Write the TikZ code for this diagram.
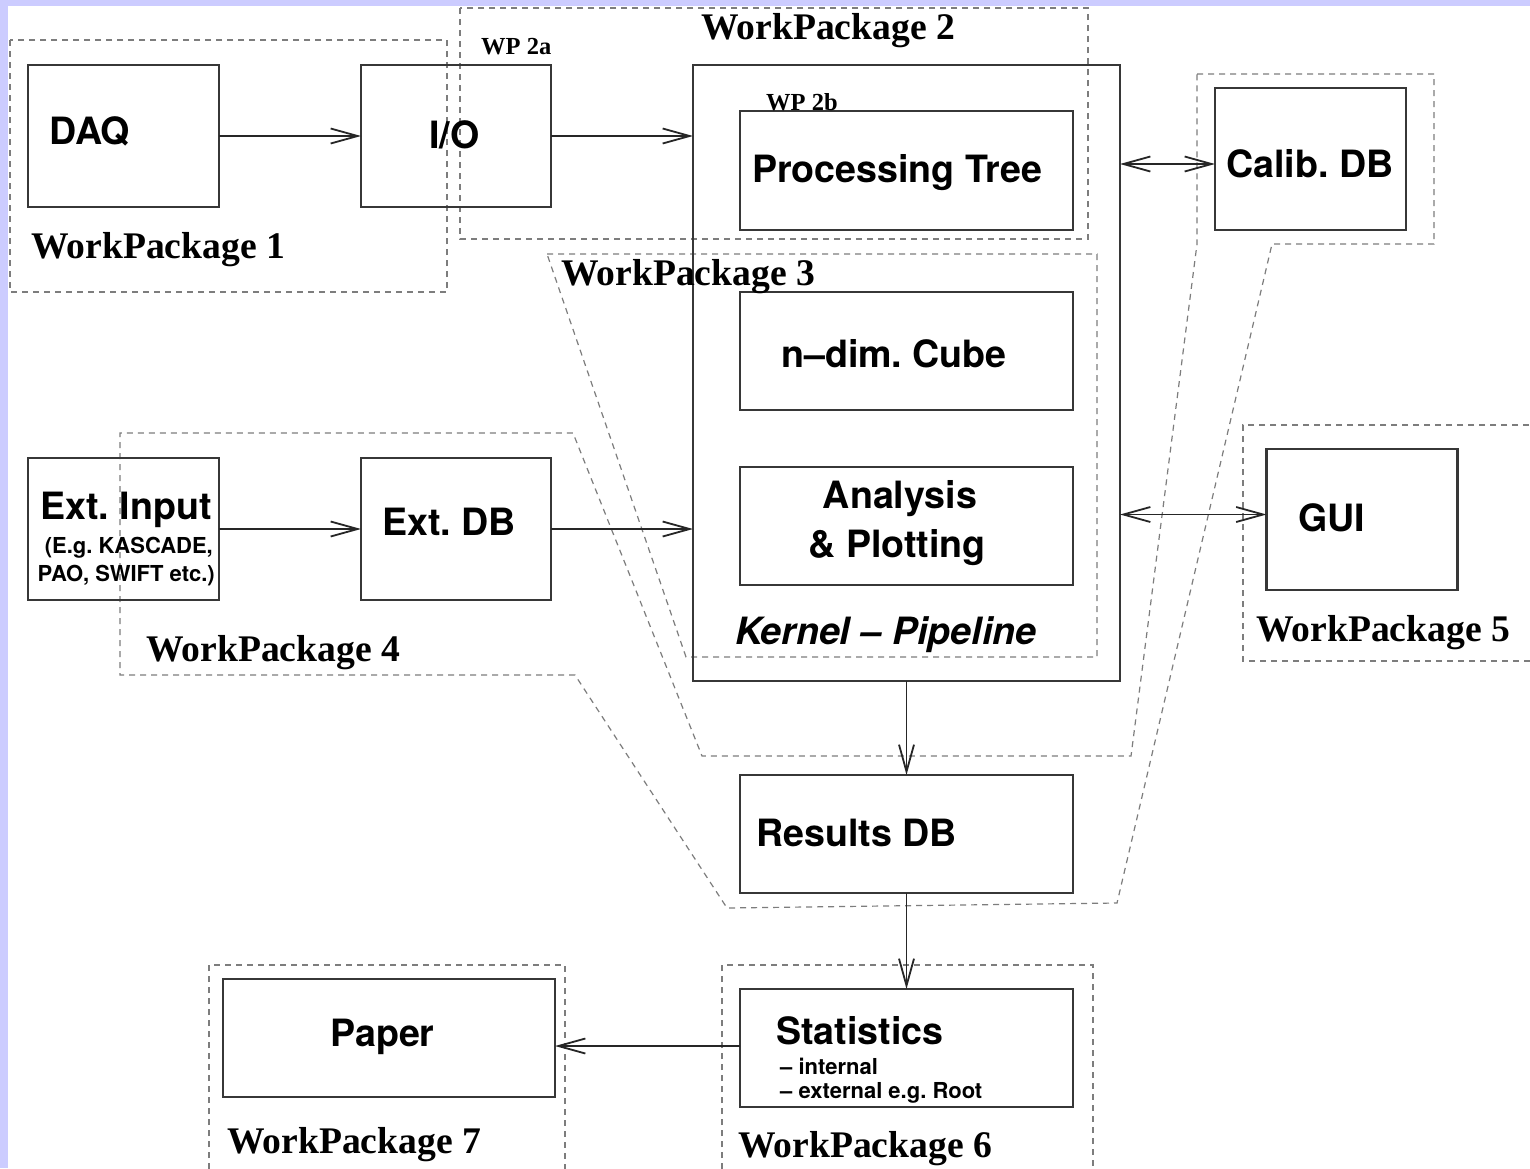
\documentclass[tikz,border=0pt]{standalone}
\usepackage{fontspec}
\setsansfont{TeX Gyre Heros}
\newfontfamily\wpfont{Liberation Serif}
\usetikzlibrary{arrows.meta}
\definecolor{pagerim}{RGB}{204,204,255}
\definecolor{boxline}{RGB}{55,55,55}
\definecolor{wpgray}{RGB}{125,125,125}
\frenchspacing
\begin{document}
\begin{tikzpicture}[x=1pt,y=-1pt,
  box/.style={draw=boxline, line width=2.5pt, rectangle, inner sep=0pt, outer sep=0pt},
  lbl/.style={inner sep=0pt, font=\sffamily\bfseries\fontsize{37.6}{40}\selectfont},
  sublbl/.style={inner sep=0pt, font=\sffamily\bfseries\fontsize{22}{24}\selectfont},
  wplbl/.style={inner sep=0pt, font=\wpfont\bfseries\fontsize{37.6}{40}\selectfont},
  wpsmall/.style={inner sep=0pt, font=\wpfont\bfseries\fontsize{24.5}{26}\selectfont},
  wpline/.style={draw=wpgray, line width=1.2pt, dash pattern=on 6pt off 5pt},
  barb/.tip={Straight Barb[length=27pt,width=15pt]},
  arr/.style={line width=1.8pt, draw=black!85, -barb},
  darr/.style={line width=1.8pt, draw=black!85, barb-barb}]

% page rim and canvas
\useasboundingbox (0,0) rectangle (1530,1168);
\fill[pagerim] (0,0) rectangle (1530,1168);
\fill[white] (8,6) rectangle (1530,1168);

% work package outlines
\draw[wpline] (10,40) rectangle (447,292);
\draw[wpline] (460,8) rectangle (1088,239);
\draw[wpline] (547,254) -- (1097,254) -- (1097,657) -- (686,657) -- cycle;
\draw[wpline] (1540,425) -- (1243,425) -- (1243,661) -- (1540,661);
\draw[wpline] (722,1180) -- (722,965) -- (1093,965) -- (1093,1180);
\draw[wpline] (209,1180) -- (209,965) -- (565,965) -- (565,1180);
\draw[wpline] (1197,74) -- (1434,74) -- (1434,244) -- (1272,244) -- (1117,903)
  -- (727,908) -- (575,675) -- (120,675) -- (120,433) -- (573,433)
  -- (702,756) -- (1131,756) -- (1197,244) -- cycle;

% boxes
\node[box, minimum width=191pt, minimum height=142pt] (daq) at (123.5,136) {};
\node[box, minimum width=190pt, minimum height=142pt] (io) at (456,136) {};
\node[box, minimum width=427pt, minimum height=616pt] (kernel) at (906.5,373) {};
\node[box, minimum width=333pt, minimum height=119pt] (ptree) at (906.5,170.5) {};
\node[box, minimum width=333pt, minimum height=118pt] (cube) at (906.5,351) {};
\node[box, minimum width=333pt, minimum height=118pt] (anaplot) at (906.5,526) {};
\node[box, minimum width=191pt, minimum height=142pt] (calib) at (1310.5,159) {};
\node[box, minimum width=191pt, minimum height=141pt] (gui) at (1362,519.5) {};
\node[box, minimum width=191pt, minimum height=142pt] (extin) at (123.5,529) {};
\node[box, minimum width=190pt, minimum height=142pt] (extdb) at (456,529) {};
\node[box, minimum width=333pt, minimum height=118pt] (results) at (906.5,834) {};
\node[box, minimum width=333pt, minimum height=118pt] (stats) at (906.5,1048) {};
\node[box, minimum width=332pt, minimum height=118pt] (paper) at (389,1038) {};

% box texts
\node[lbl, anchor=base west] (daqtxt) at (49,144) {DAQ};
\node[lbl, anchor=base west] (iotxt) at (429,148) {I/O};
\node[lbl, anchor=base west] (ptreetxt) at (752,182) {Processing Tree};
\node[lbl, anchor=base west] (cubetxt) at (781,367) {n–dim. Cube};
\node[lbl, anchor=base] (anatxt) at (900,508) {Analysis};
\node[lbl, anchor=base] (plottxt) at (897,557) {\& Plotting};
\node[lbl, anchor=base west, font=\sffamily\bfseries\itshape\fontsize{37.6}{40}\selectfont] (pipetxt) at (735,644) {Kernel – Pipeline};
\node[lbl, anchor=base west] (calibtxt) at (1226,177) {Calib. DB};
\node[lbl, anchor=base west] (guitxt) at (1298,531) {GUI};
\node[lbl, anchor=base west] (extintxt) at (40,519) {Ext. Input};
\node[sublbl, anchor=base east] (extinsub1) at (213,553) {(E.g. KASCADE,};
\node[sublbl, anchor=base east] (extinsub2) at (215,581) {PAO, SWIFT etc.)};
\node[lbl, anchor=base west] (extdbtxt) at (382,535) {Ext. DB};
\node[lbl, anchor=base west] (resultstxt) at (756,846) {Results DB};
\node[lbl, anchor=base west] (statstxt) at (776,1044) {Statistics};
\node[sublbl, anchor=base west] (statssub1) at (780,1074) {– internal};
\node[sublbl, anchor=base west] (statssub2) at (780,1098) {– external e.g. Root};
\node[lbl, anchor=base west] (papertxt) at (330,1046) {Paper};

% work package labels
\node[wplbl, anchor=base west] (wp1) at (31,258) {WorkPackage 1};
\node[wplbl, anchor=base west] (wp2) at (701,39) {WorkPackage 2};
\node[wplbl, anchor=base west] (wp3) at (561,285) {WorkPackage 3};
\node[wplbl, anchor=base west] (wp4) at (146,661) {WorkPackage 4};
\node[wplbl, anchor=base west] (wp5) at (1256,641) {WorkPackage 5};
\node[wplbl, anchor=base west] (wp6) at (738,1157) {WorkPackage 6};
\node[wplbl, anchor=base west] (wp7) at (227,1153) {WorkPackage 7};
\node[wpsmall, anchor=base west] (wp2a) at (481,54) {WP 2a};
\node[wpsmall, anchor=base west] (wp2b) at (766,110) {WP 2b};

% data flow
\draw[arr] (daq.east) -- (io.west);
\draw[arr] (io.east) -- (io.east -| kernel.west);
\draw[arr] (extin.east) -- (extdb.west);
\draw[arr] (extdb.east) -- (extdb.east -| kernel.west);
\draw[darr] ([yshift=-5pt]calib.west -| kernel.east) -- ([yshift=-5pt]calib.west);
\draw[darr] ([yshift=5pt]gui.west -| kernel.east) -- ([yshift=5pt]gui.west);
\draw[arr] (kernel.south) -- (results.north);
\draw[arr] (results.south) -- (stats.north);
\draw[arr] ([yshift=2pt]stats.west) -- ([yshift=2pt]stats.west -| paper.east);
\end{tikzpicture}
\end{document}
